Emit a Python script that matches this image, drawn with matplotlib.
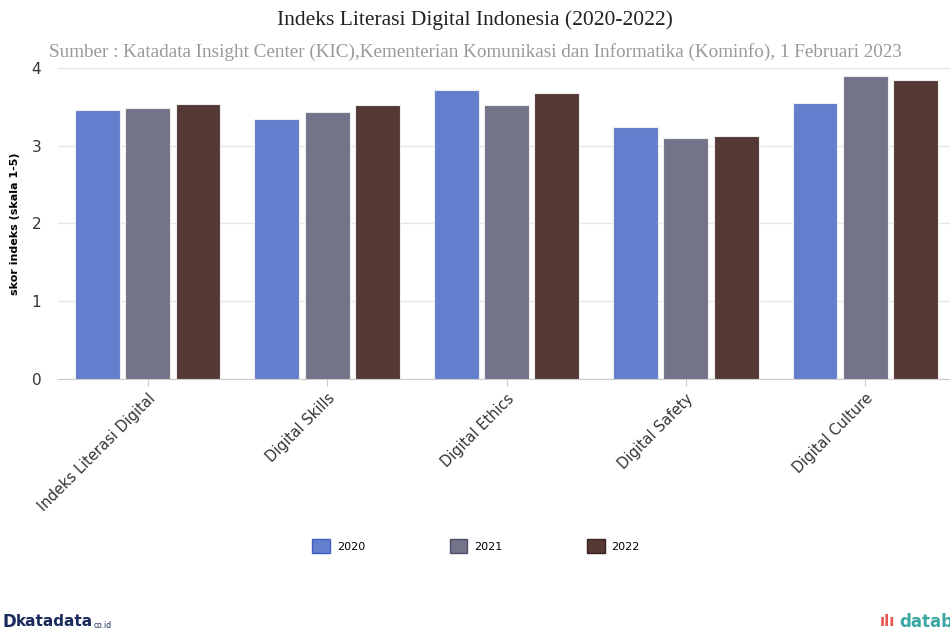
import numpy as np
import matplotlib.pyplot as plt

categories = ['Indeks Literasi Digital', 'Digital Skills', 'Digital Ethics',
              'Digital Safety', 'Digital Culture']
years = ['2020', '2021', '2022']
v2020 = [3.46, 3.34, 3.72, 3.24, 3.55]
v2021 = [3.49, 3.44, 3.53, 3.10, 3.90]
v2022 = [3.54, 3.52, 3.68, 3.12, 3.84]
colors = ['#627ecc', '#737389', '#553935']
edges = ['#3f5fc4', '#4f4f6a', '#3a2320']

fig = plt.figure(figsize=(9.5, 6.32), dpi=100)
ax = fig.add_axes([58/950, 253/632, 897/950, 311/632])

x = np.arange(len(categories))
w = 0.25
gap = 0.28
for i, vals in enumerate([v2020, v2021, v2022]):
    ax.bar(x + (i - 1)*gap, vals, width=w, color=colors[i],
           edgecolor='#eeeeee', linewidth=0.8, label=years[i], zorder=3)

ax.set_xlim(-0.5, len(categories) - 0.5)
ax.set_ylim(0, 4)
ax.set_yticks([0, 1, 2, 3, 4])
ax.grid(axis='y', color='#e6e6e6', linewidth=1, zorder=0)
for s in ['left', 'right', 'top']:
    ax.spines[s].set_visible(False)
ax.spines['bottom'].set_color('#cccccc')
ax.tick_params(axis='y', length=0, labelsize=11, labelcolor='#333333', pad=12)
ax.tick_params(axis='x', length=5, color='#cccccc', labelsize=10.5, labelcolor='#333333')
ax.set_xticks(x)
ax.set_xticklabels(categories, rotation=45, ha='right', rotation_mode='anchor')
ax.set_ylabel('skor indeks (skala 1-5)', fontsize=8, fontweight='bold', labelpad=8)

fig.text(0.5, 1 - 20/632, 'Indeks Literasi Digital Indonesia (2020-2022)',
         family='Liberation Serif', fontsize=15.5, ha='center', va='center', color='#222222')
fig.text(0.5, 1 - 52/632,
         'Sumber : Katadata Insight Center (KIC),Kementerian Komunikasi dan Informatika (Kominfo), 1 Februari 2023',
         family='Liberation Serif', fontsize=13.8, ha='center', va='center', color='#999999')

handles, labels = ax.get_legend_handles_labels()
leg = fig.legend(handles, labels, loc='center', bbox_to_anchor=(476/950, 1 - 546/632),
                 ncol=3, frameon=False, fontsize=8, handlelength=1.6, handleheight=1.6,
                 handletextpad=0.6, columnspacing=7.6)
for p, e in zip(leg.get_patches(), edges):
    p.set_edgecolor(e)
    p.set_linewidth(1)

fig.text(2/950, 1 - 622/632, 'D', fontsize=12, fontweight='bold', color='#1b2a5c', va='center')
fig.text(16/950, 1 - 622/632, 'katadata', fontsize=11, fontweight='bold', color='#1b2a5c', va='center')
fig.text(94/950, 1 - 625/632, 'co.id', fontsize=5.5, color='#1b2a5c', va='center')
fig.text(880/950, 1 - 622/632, 'ılı', fontsize=11, fontweight='bold', color='#e4574f', va='center')
fig.text(899/950, 1 - 622/632, 'databoks', fontsize=12, fontweight='bold', color='#3aa7a3', va='center')

fig.savefig('out.png', dpi=100)
